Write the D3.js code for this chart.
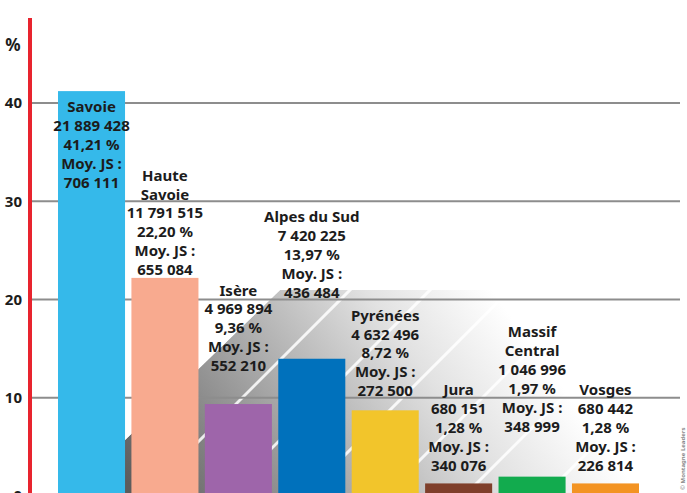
<!DOCTYPE html>
<html><head><meta charset="utf-8">
<script src="https://cdn.jsdelivr.net/npm/d3@7"></script>
<style>
html,body{margin:0;padding:0;background:#fff;}
svg{display:block;overflow:hidden;}
text{font-family:"Noto Sans","DejaVu Sans",sans-serif;font-weight:700;fill:#1c1c1c;}
</style></head>
<body>
<svg id="chart" width="687" height="493"></svg>
<script>
// ---- data ----
const categories = ["Savoie","Haute Savoie","Isère","Alpes du Sud","Pyrénées","Jura","Massif Central","Vosges"];
const nameLines = [["Savoie"],["Haute","Savoie"],["Isère"],["Alpes du Sud"],["Pyrénées"],["Jura"],["Massif","Central"],["Vosges"]];
const skierDays = ["21 889 428","11 791 515","4 969 894","7 420 225","4 632 496","680 151","1 046 996","680 442"];
const shares = [41.21, 22.20, 9.36, 13.97, 8.72, 1.28, 1.97, 1.28];
const averages = ["706 111","655 084","552 210","436 484","272 500","340 076","348 999","226 814"];
const yTicks = [0, 10, 20, 30, 40];
const barColors = ["#35b9ea","#f8aa8f","#9e65aa","#0071bc","#f2c52b","#7f3f2b","#12ab4e","#f39322"];
// label anchor (first line), in % units of the y axis
const labelAnchors = [39.6, 32.65, 20.95, 28.4, 18.4, 10.8, 16.7, 10.8];

// ---- layout ----
const svg = d3.select("#chart");
const x = d3.scaleBand().domain(categories).range([58, 639]).paddingInner(0.087).paddingOuter(0);
const y = d3.scaleLinear().domain([0, 40]).range([496, 103]);
const gridX0 = 32, gridX1 = 680;
const fmt = v => d3.format(".2f")(v).replace(".", ",") + " %";

// background decorative shadow
const defs = svg.append("defs");
const grad = defs.append("linearGradient").attr("id","bgGrad")
  .attr("gradientUnits","userSpaceOnUse")
  .attr("x1",140).attr("y1",500).attr("x2",470).attr("y2",260);
grad.append("stop").attr("offset",0).attr("stop-color","#5c5c5c");
grad.append("stop").attr("offset",0.4).attr("stop-color","#a4a4a4");
grad.append("stop").attr("offset",0.75).attr("stop-color","#e2e2e2");
grad.append("stop").attr("offset",1).attr("stop-color","#ffffff");
const bgPts = [[125,496],[125,440],[280,290],[680,290],[680,496]];
defs.append("clipPath").attr("id","bgClip").append("polygon").attr("points", bgPts.map(p=>p.join(",")).join(" "));
const bg = svg.append("g").attr("clip-path","url(#bgClip)");
bg.append("polygon").attr("points", bgPts.map(p=>p.join(",")).join(" ")).attr("fill","url(#bgGrad)");
const stripes = d3.range(-6, 10);
bg.selectAll("line.stripe").data(stripes).join("line")
  .attr("class","stripe")
  .attr("x1", d => 60 + d*80).attr("y1", 500)
  .attr("x2", d => 60 + d*80 + 240).attr("y2", 500-240)
  .attr("stroke","#ffffff").attr("stroke-width",3).attr("stroke-opacity",0.85);

// gridlines
svg.append("g").selectAll("line").data(yTicks.filter(d=>d>0)).join("line")
  .attr("x1", gridX0).attr("x2", gridX1)
  .attr("y1", d => y(d)).attr("y2", d => y(d))
  .attr("stroke","#8d8d8d").attr("stroke-width",2);

// y axis tick labels
svg.append("g").selectAll("text").data(yTicks).join("text")
  .attr("x", 22).attr("y", d => y(d)).attr("dy","0.36em")
  .attr("text-anchor","end").attr("font-size",15).text(d => d);
svg.append("text").attr("x",13).attr("y",45).attr("dy","0.36em")
  .attr("text-anchor","middle").attr("font-size",17).text("%");

// red axis line
svg.append("line").attr("x1",30).attr("x2",30).attr("y1",18).attr("y2",496)
  .attr("stroke","#e8242e").attr("stroke-width",4);

// bars
svg.append("g").selectAll("rect").data(categories).join("rect")
  .attr("x", d => x(d)).attr("width", x.bandwidth())
  .attr("y", (d,i) => y(shares[i])).attr("height", (d,i) => y(0) - y(shares[i]))
  .attr("fill", (d,i) => barColors[i]);

// labels
const lineH = 18.9;
const lab = svg.append("g").selectAll("g").data(categories).join("g")
  .attr("transform", (d,i) => `translate(${x(d) + x.bandwidth()/2},${y(labelAnchors[i])})`);
lab.each(function(d,i){
  const lines = nameLines[i].concat([skierDays[i], fmt(shares[i]), "Moy. JS :", averages[i]]);
  d3.select(this).selectAll("text").data(lines).join("text")
    .attr("x",0).attr("y",(t,j)=>j*lineH).attr("dy","0.36em")
    .attr("text-anchor","middle").attr("font-size",15)
    .text(t=>t);
});

// credit
svg.append("text").attr("transform","translate(685,490) rotate(-90)")
  .attr("font-size",6).attr("font-weight",400).style("fill","#8a8a8a")
  .text("© Montagne Leaders");
</script>
</body></html>
